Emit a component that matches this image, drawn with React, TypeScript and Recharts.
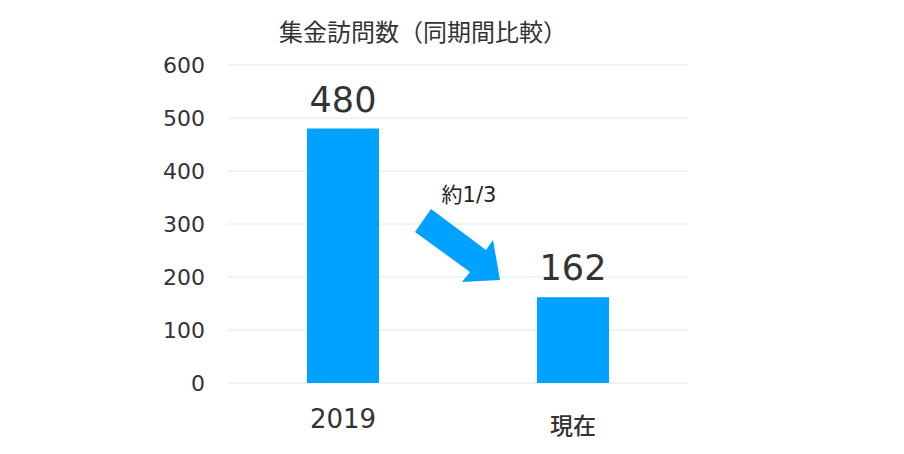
import React from "react";
import { BarChart, Bar, XAxis, YAxis, CartesianGrid, LabelList } from "recharts";

const categories = ["2019", "現在"];
const visits = [480, 162];
const yTicks = [0, 100, 200, 300, 400, 500, 600];
const title = "集金訪問数（同期間比較）";
const annotation = "約1/3";

const data = categories.map((c, i) => ({ name: c, value: visits[i] }));

const FONT = "'DejaVu Sans', 'Noto Sans CJK JP', sans-serif";
const CJK = "'Noto Sans CJK JP', sans-serif";
const TEXT = "#333333";
const BLUE = "#00A2FF";

const XTick = (props: any) => {
  const { x, y, payload } = props;
  const isNum = /^\d+$/.test(payload.value);
  return (
    <text
      x={x}
      y={y + (isNum ? 45 : 51)}
      textAnchor="middle"
      fontSize={isNum ? 26 : 23}
      fontFamily={isNum ? FONT : CJK}
      fontWeight={isNum ? 400 : 500}
      fill={TEXT}
    >
      {payload.value}
    </text>
  );
};

const BarLabel = (props: any) => {
  const { x, y, width, value } = props;
  return (
    <text
      x={x + width / 2}
      y={y - 17}
      textAnchor="middle"
      fontSize={35}
      fontFamily={FONT}
      fill={TEXT}
    >
      {value}
    </text>
  );
};

export default function App() {
  const W = 888;
  const H = 438;
  return (
    <div style={{ position: "relative", width: W, height: H, fontFamily: FONT }}>
      <BarChart
        width={W}
        height={H}
        data={data}
        margin={{ top: 57, right: 208, bottom: 33, left: 0 }}
      >
        <CartesianGrid horizontal vertical={false} stroke="#e6e6e6" />
        <XAxis
          dataKey="name"
          axisLine={false}
          tickLine={false}
          tickSize={0}
          tickMargin={0}
          height={30}
          tick={<XTick />}
          interval={0}
        />
        <YAxis
          domain={[0, 600]}
          ticks={yTicks}
          width={220}
          axisLine={false}
          tickLine={false}
          tickSize={0}
          tickMargin={23}
          tick={{ fontSize: 22, fill: TEXT, fontFamily: FONT }}
        />
        <Bar dataKey="value" fill={BLUE} barSize={72} isAnimationActive={false}>
          <LabelList dataKey="value" content={<BarLabel />} />
        </Bar>
      </BarChart>
      <svg
        width={W}
        height={H}
        style={{ position: "absolute", left: 0, top: 0, pointerEvents: "none" }}
      >
        <text
          x={415}
          y={33}
          textAnchor="middle"
          fontSize={24}
          fontFamily={CJK}
          fill={TEXT}
        >
          {title}
        </text>
        <text
          x={461}
          y={194}
          textAnchor="middle"
          fontSize={21}
          fontFamily={FONT}
          fill="#222"
        >
          {annotation}
        </text>
        <polygon
          points="423,201 478,242 485,232 492,272 454,274 462,264 407,224"
          fill={BLUE}
        />
      </svg>
    </div>
  );
}
